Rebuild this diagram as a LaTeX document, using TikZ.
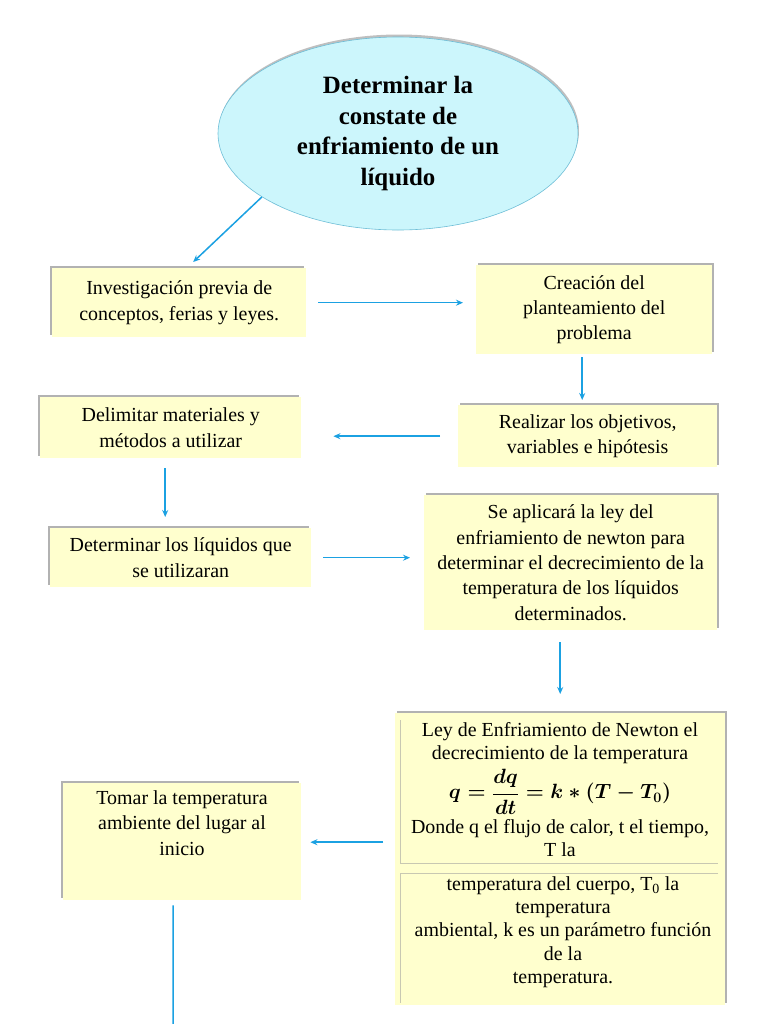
\documentclass[tikz,border=0pt]{standalone}
\usepackage{fontspec}
\setmainfont{Liberation Serif}
\usetikzlibrary{shapes.geometric,arrows.meta,shadows}
\definecolor{boxy}{RGB}{255,255,206}
\definecolor{ellfill}{RGB}{204,246,252}
\definecolor{elldraw}{RGB}{110,190,215}
\definecolor{arrc}{RGB}{27,161,226}
\definecolor{panelc}{RGB}{200,200,178}
\newcommand\bodyf{\fontsize{20}{25.5}\selectfont}
\newcommand\newtf{\fontsize{20}{23.3}\selectfont}
\newcommand\titlef{\fontsize{25}{31}\selectfont\bfseries}
\begin{document}
\begin{tikzpicture}[x=1bp,y=-1bp,
  bx/.style={fill=boxy, inner sep=0pt, align=center, anchor=north west, font=\bodyf},
  shl/.style={drop shadow={shadow xshift=-2bp, shadow yshift=2.5bp, opacity=0.3, fill=black}},
  shr/.style={drop shadow={shadow xshift=2bp, shadow yshift=2.5bp, opacity=0.3, fill=black}},
  txt/.style={inner sep=0pt, align=center, anchor=north},
  arr/.style={draw=arrc, line width=1.5bp, -{Stealth[length=7bp,width=6bp]}},
  plain/.style={draw=arrc, line width=1.5bp},
  panelline/.style={draw=panelc, line width=0.8bp}]
\fill[white] (0,0) rectangle (768,1024);
\useasboundingbox (0,0) rectangle (768,1024);

% title ellipse
\node[ellipse, fill=ellfill, draw=elldraw, line width=0.6bp, minimum width=360bp,
      minimum height=193bp, inner sep=0pt, align=center, font=\titlef,
      drop shadow={opacity=0.25, shadow xshift=1bp, shadow yshift=2.5bp, fill=black}]
  (ell) at (398,133.5) {Determinar la\\constate de\\enfriamiento de un\\líquido};

% boxes
\node[bx,shl,minimum width=254bp,minimum height=69bp] (b1) at (52,268)
  {Investigación previa de\\conceptos, ferias y leyes.};
\node[bx,shr,minimum width=236bp,minimum height=89bp] (b2) at (476,265)
  {Creación del\\planteamiento del\\problema};
\node[bx,shr,minimum width=259bp,minimum height=62bp] (b3) at (458,405)
  {Realizar los objetivos,\\variables e hipótesis};
\node[bx,shl,minimum width=261bp,minimum height=61bp] (b4) at (40,397)
  {Delimitar materiales y\\métodos a utilizar};
\node[bx,shl,minimum width=261bp,minimum height=59bp] (b5) at (50,528)
  {Determinar los líquidos que\\se utilizaran};
\node[bx,shr,minimum width=293bp,minimum height=135bp] (b6) at (424,495)
  {Se aplicará la ley del\\enfriamiento de newton para\\determinar el decrecimiento de la\\temperatura de los líquidos\\determinados.};
\node[bx,shr,minimum width=330bp,minimum height=292bp] (b7) at (395,713) {};
\node[bx,shl,minimum width=238bp,minimum height=117bp] (b8) at (63,783) {};

% Newton box contents
\draw[panelline] (400,720) -- (400,863) -- (718,863);
\draw[panelline] (718,873) -- (400,873) -- (400,1003);
\node[txt, font=\newtf] (t7a) at (560,722.5)
  {Ley de Enfriamiento de Newton el\\decrecimiento de la temperatura\\[4bp]
   {\fontsize{20}{20}\selectfont\boldmath$\displaystyle q=\frac{dq}{dt}=k*(T-T_0)$}\\[4bp]
   Donde q el flujo de calor, t el tiempo,\\T la};
\node[txt, font=\newtf] (t7b) at (563,876.5)
  {temperatura del cuerpo, T\textsubscript{0} la\\temperatura\\ambiental, k es un parámetro función\\de la\\temperatura.};
\node[txt, font=\bodyf] (t8) at (182,790.5)
  {Tomar la temperatura\\ambiente del lugar al\\inicio};

% connectors
\draw[arr] (ell.205.9) -- ([xshift=14bp,yshift=6bp]b1.north);
\draw[arr, shorten <=12bp, shorten >=13bp] (b1.east) -- (b1.east -| b2.west);
\coordinate (c23) at ([xshift=-12bp]b2.south);
\draw[arr, shorten <=3bp, shorten >=5bp] (c23) -- (c23 |- b3.north);
\draw[arr, shorten <=18bp, shorten >=32bp] (b3.west) -- (b3.west -| b4.east);
\coordinate (c45) at ([xshift=-5.5bp]b4.south);
\draw[arr, shorten <=10bp, shorten >=11bp] (c45) -- (c45 |- b5.north);
\draw[arr, shorten <=12bp, shorten >=14bp] (b5.east) -- (b5.east -| b6.west);
\coordinate (c67) at ([xshift=-10.5bp]b6.south);
\draw[arr, shorten <=12bp, shorten >=19bp] (c67) -- (c67 |- b7.north);
\coordinate (c78) at ([yshift=17bp]b7.west);
\draw[arr, shorten <=12bp, shorten >=9bp] (c78) -- (c78 -| b8.east);
\coordinate (c8) at ([xshift=-9bp]b8.south);
\coordinate (cend) at (173,1030);
\draw[plain, shorten <=5bp] (c8) -- (cend);
\end{tikzpicture}
\end{document}
